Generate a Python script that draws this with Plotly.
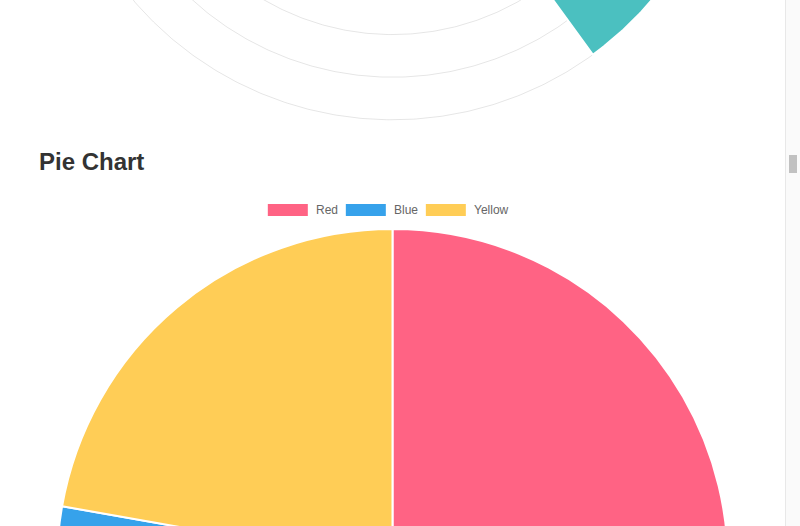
import numpy as np
import plotly.graph_objects as go

# ---------------- data ----------------
polar_labels = ["Red", "Green", "Yellow", "Grey", "Blue"]
polar_values = [11, 16, 7, 3, 14]
polar_colors = ["rgb(255, 99, 132)", "rgb(75, 192, 192)", "rgb(255, 205, 86)",
                "rgb(201, 203, 207)", "rgb(54, 162, 235)"]
polar_ticks = [2, 4, 6, 8, 10, 12, 14, 16]

pie_labels = ["Red", "Blue", "Yellow"]
pie_values = [300, 50, 100]
pie_colors = ["rgb(255, 99, 132)", "rgb(54, 162, 235)", "rgb(255, 205, 86)"]

title_text = "Pie Chart"

# ---------------- page geometry (pixels) ----------------
W, H = 800, 910


def fx(px):
    return px / W


def fy(py):
    return 1 - py / H


FONT = "Liberation Sans, Arial, Helvetica, sans-serif"

fig = go.Figure()

# ---------- polar-area chart (only its lower part is on screen) ----------
k = 21.3            # pixels per value unit on the radial scale
cx_px, cy_px = 392.5, -221.0
strip_bottom = 130.0

th = np.linspace(0, 2 * np.pi, 721)
for t in polar_ticks:
    fig.add_trace(go.Scatter(
        x=t * np.sin(th), y=t * np.cos(th), mode="lines",
        line=dict(color="rgba(0,0,0,0.1)", width=1),
        hoverinfo="skip", showlegend=False, xaxis="x", yaxis="y"))

n = len(polar_values)
step = 2 * np.pi / n
for i, (lab, v, c) in enumerate(zip(polar_labels, polar_values, polar_colors)):
    a = np.linspace(i * step, (i + 1) * step, 120)
    xs = np.concatenate([[0], v * np.sin(a), [0]])
    ys = np.concatenate([[0], v * np.cos(a), [0]])
    fig.add_trace(go.Scatter(
        x=xs, y=ys, mode="lines", fill="toself", fillcolor=c,
        line=dict(color="#ffffff", width=2), name=lab,
        hoverinfo="name", showlegend=False, xaxis="x", yaxis="y"))

# ---------- pie chart ----------
pie_r = 335.5
pie_cx, pie_top = 392.5, 229.0
fig.add_trace(go.Pie(
    labels=pie_labels, values=pie_values, sort=False, direction="clockwise",
    rotation=0, marker=dict(colors=pie_colors, line=dict(color="#ffffff", width=2)),
    textinfo="none", hoverinfo="label+value", showlegend=False,
    domain=dict(x=[fx(pie_cx - pie_r), fx(pie_cx + pie_r)],
                y=[fy(pie_top + 2 * pie_r), fy(pie_top)])))

# ---------- custom legend (Chart.js style boxes) ----------
char_w = {"R": .722, "e": .556, "d": .556, "B": .667, "l": .222, "u": .556,
          "Y": .667, "o": .556, "w": .722}
fs = 12
box_w, box_h, pad = 40, 12, 10
widths = [sum(char_w.get(ch, .556) for ch in lab) * fs for lab in pie_labels]
total = sum(box_w + fs / 2 + w for w in widths) + pad * (len(widths) - 1)
x0 = pie_cx - (total + pad) / 2
leg_y = 210.0
shapes = []
annotations = []
for lab, col, w in zip(pie_labels, pie_colors, widths):
    shapes.append(dict(type="rect", xref="paper", yref="paper",
                       x0=fx(x0), x1=fx(x0 + box_w),
                       y0=fy(leg_y + box_h / 2), y1=fy(leg_y - box_h / 2),
                       fillcolor=col, line=dict(width=0), layer="above"))
    annotations.append(dict(text=lab, xref="paper", yref="paper",
                            x=fx(x0 + box_w + fs / 2), y=fy(leg_y),
                            xanchor="left", yanchor="middle", showarrow=False,
                            font=dict(family=FONT, size=fs, color="#666666")))
    x0 += box_w + fs / 2 + w + pad

# ---------- heading ----------
annotations.append(dict(text="<b>" + title_text + "</b>", xref="paper", yref="paper",
                        x=fx(36.5), y=fy(161.5), xanchor="left", yanchor="middle",
                        showarrow=False,
                        font=dict(family=FONT, size=24, color="#333333")))

# ---------- page scrollbar ----------
shapes.append(dict(type="rect", xref="paper", yref="paper", x0=fx(785), x1=fx(800),
                   y0=fy(526), y1=fy(0), fillcolor="#fafafa", line=dict(width=0),
                   layer="above"))
shapes.append(dict(type="line", xref="paper", yref="paper", x0=fx(785.5), x1=fx(785.5),
                   y0=fy(526), y1=fy(0), line=dict(color="#e8e8e8", width=1),
                   layer="above"))
shapes.append(dict(type="rect", xref="paper", yref="paper", x0=fx(789), x1=fx(797),
                   y0=fy(173), y1=fy(155), fillcolor="#c1c1c1", line=dict(width=0),
                   layer="above"))

fig.update_layout(
    width=W, height=H, autosize=False,
    margin=dict(l=0, r=0, t=0, b=0),
    paper_bgcolor="#ffffff", plot_bgcolor="rgba(0,0,0,0)",
    xaxis=dict(domain=[0, 1], range=[(0 - cx_px) / k, (W - cx_px) / k],
               visible=False, fixedrange=True),
    yaxis=dict(domain=[fy(strip_bottom), 1],
               range=[-(strip_bottom - cy_px) / k, -(0 - cy_px) / k],
               visible=False, fixedrange=True),
    shapes=shapes, annotations=annotations, showlegend=False,
    font=dict(family=FONT),
)

fig.write_html("out.html", config={"displayModeBar": False})
